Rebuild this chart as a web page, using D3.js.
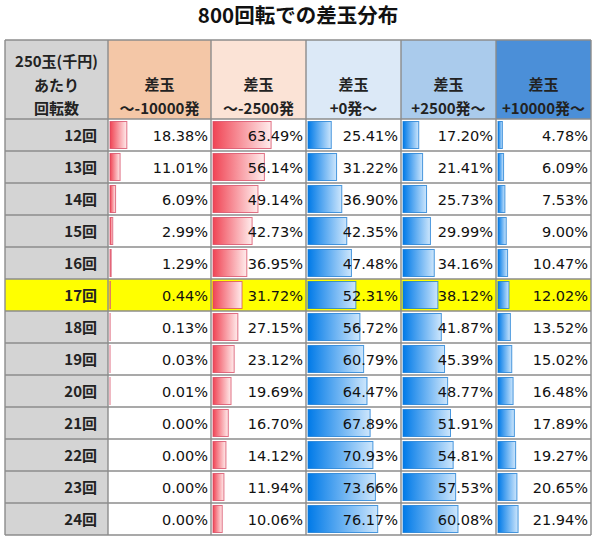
<!DOCTYPE html>
<html>
<head>
<meta charset="utf-8">
<script src="https://cdn.jsdelivr.net/npm/d3@7"></script>
<style>
  body { margin: 0; background: #fff; }
  svg { display: block; }
</style>
</head>
<body>
<svg id="canvas" width="597" height="541"></svg>
<script>
// 250玉あたり回転数
let rowLabels = ['12回','13回','14回','15回','16回','17回','18回','19回','20回','21回','22回','23回','24回']
let highlightRow = '17回'

let colTitles = [
  ['差玉', '～-10000発'],
  ['差玉', '～-2500発'],
  ['差玉', '+0発～'],
  ['差玉', '+2500発～'],
  ['差玉', '+10000発～']
]

let minus10000 = [18.38, 11.01, 6.09, 2.99, 1.29, 0.44, 0.13, 0.03, 0.01, 0.00, 0.00, 0.00, 0.00]
let minus2500  = [63.49, 56.14, 49.14, 42.73, 36.95, 31.72, 27.15, 23.12, 19.69, 16.70, 14.12, 11.94, 10.06]
let plus0      = [25.41, 31.22, 36.90, 42.35, 47.48, 52.31, 56.72, 60.79, 64.47, 67.89, 70.93, 73.66, 76.17]
let plus2500   = [17.20, 21.41, 25.73, 29.99, 34.16, 38.12, 41.87, 45.39, 48.77, 51.91, 54.81, 57.53, 60.08]
let plus10000  = [4.78, 6.09, 7.53, 9.00, 10.47, 12.02, 13.52, 15.02, 16.48, 17.89, 19.27, 20.65, 21.94]

let series = [minus10000, minus2500, plus0, plus2500, plus10000]

let canvas = d3.select('#canvas')

// layout
let colEdges = [5, 108, 211, 306, 401, 496, 591]
let headTop = 40
let headBottom = 119
let tableBottom = 535
let headFills = ['#d4d4d4', '#f4c7a7', '#fbe3d6', '#dce9f7', '#aacbec', '#4b8fd8']
let gridColor = '#8c8c8c'

let y = d3.scaleBand()
  .domain(rowLabels)
  .range([headBottom, tableBottom])

let barScale = d3.scaleLinear()
  .domain([0, 100])
  .range([0, 91.5])

let cjk = '"Noto Sans CJK JP", "Noto Sans", sans-serif'
let num = '"DejaVu Sans", Verdana, sans-serif'

// gradients
let defs = canvas.append('defs')
let grads = [
  {id: 'redBar', from: 'rgb(240,68,84)', to: 'rgb(255,236,236)'},
  {id: 'blueBar', from: 'rgb(0,122,232)', to: 'rgb(205,230,252)'}
]
grads.forEach(g => {
  let lg = defs.append('linearGradient').attr('id', g.id)
    .attr('x1', '0%').attr('x2', '100%').attr('y1', '0%').attr('y2', '0%')
  lg.append('stop').attr('offset', '0%').attr('stop-color', g.from)
  lg.append('stop').attr('offset', '100%').attr('stop-color', g.to)
})

// title
canvas.append('text')
  .attr('x', 298)
  .attr('y', 23)
  .attr('text-anchor', 'middle')
  .style('font-family', cjk)
  .style('font-weight', 'bold')
  .style('font-size', '20.5px')
  .style('fill', '#111')
  .text('800回転での差玉分布')

// header cells
let head = canvas.append('g')
head.selectAll('rect')
  .data(headFills)
  .enter()
  .append('rect')
  .attr('x', (d, i) => colEdges[i])
  .attr('y', headTop)
  .attr('width', (d, i) => colEdges[i + 1] - colEdges[i])
  .attr('height', headBottom - headTop)
  .attr('fill', d => d)

let firstHead = ['250玉(千円)', 'あたり', '回転数']
head.selectAll('text.first')
  .data(firstHead)
  .enter()
  .append('text')
  .attr('class', 'first')
  .attr('x', (colEdges[0] + colEdges[1]) / 2)
  .attr('y', (d, i) => 67 + i * 23.5)
  .attr('text-anchor', 'middle')
  .style('font-family', cjk)
  .style('font-weight', 'bold')
  .style('font-size', '15px')
  .style('fill', '#222')
  .text(d => d)

colTitles.forEach((lines, c) => {
  head.selectAll('text.c' + c)
    .data(lines)
    .enter()
    .append('text')
    .attr('x', (colEdges[c + 1] + colEdges[c + 2]) / 2)
    .attr('y', (d, i) => 90 + i * 23.5)
    .attr('text-anchor', 'middle')
    .style('font-family', cjk)
    .style('font-weight', 'bold')
    .style('font-size', '15px')
    .style('fill', '#222')
    .text(d => d)
})

// body rows
let rows = canvas.selectAll('g.row')
  .data(rowLabels)
  .enter()
  .append('g')
  .attr('class', 'row')
  .attr('transform', d => 'translate(0,' + y(d) + ')')

rows.append('rect')
  .attr('x', colEdges[0])
  .attr('width', colEdges[1] - colEdges[0])
  .attr('height', y.bandwidth())
  .attr('fill', d => d === highlightRow ? '#ffff00' : '#d4d4d4')

rows.append('rect')
  .attr('x', colEdges[1])
  .attr('width', colEdges[6] - colEdges[1])
  .attr('height', y.bandwidth())
  .attr('fill', d => d === highlightRow ? '#ffff00' : '#ffffff')

rows.append('text')
  .attr('x', colEdges[1] - 11)
  .attr('y', y.bandwidth() / 2 + 6)
  .attr('text-anchor', 'end')
  .style('font-family', cjk)
  .style('font-weight', 'bold')
  .style('font-size', '15px')
  .style('fill', '#222')
  .text(d => d)

// bars and values
series.forEach((values, c) => {
  let left = colEdges[c + 1]
  let right = colEdges[c + 2]
  let red = c < 2
  let cells = canvas.append('g')
    .selectAll('g')
    .data(values)
    .enter()
    .append('g')
    .attr('transform', (v, i) => 'translate(' + left + ',' + y(rowLabels[i]) + ')')

  cells.filter(v => v > 0)
    .append('rect')
    .attr('x', 2)
    .attr('y', 2.5)
    .attr('width', v => barScale(v))
    .attr('height', y.bandwidth() - 5)
    .attr('fill', red ? 'url(#redBar)' : 'url(#blueBar)')
    .attr('stroke', red ? 'rgb(214,70,96)' : 'rgb(20,120,210)')
    .attr('stroke-opacity', 0.75)
    .attr('stroke-width', 1)

  cells.append('text')
    .attr('x', right - left - 3)
    .attr('y', y.bandwidth() / 2 + 5.5)
    .attr('text-anchor', 'end')
    .style('font-family', num)
    .style('font-size', '14.5px')
    .style('fill', '#111')
    .text(v => v.toFixed(2) + '%')
})

// grid lines
let grid = canvas.append('g')
  .attr('stroke', gridColor)
  .attr('stroke-width', 1.4)

let hLines = [headTop, headBottom].concat(rowLabels.map(r => y(r) + y.bandwidth()))
grid.selectAll('line.h')
  .data(hLines)
  .enter()
  .append('line')
  .attr('x1', colEdges[0])
  .attr('x2', colEdges[6])
  .attr('y1', d => d)
  .attr('y2', d => d)

grid.selectAll('line.v')
  .data(colEdges)
  .enter()
  .append('line')
  .attr('x1', d => d)
  .attr('x2', d => d)
  .attr('y1', headTop)
  .attr('y2', tableBottom)
</script>
</body>
</html>
